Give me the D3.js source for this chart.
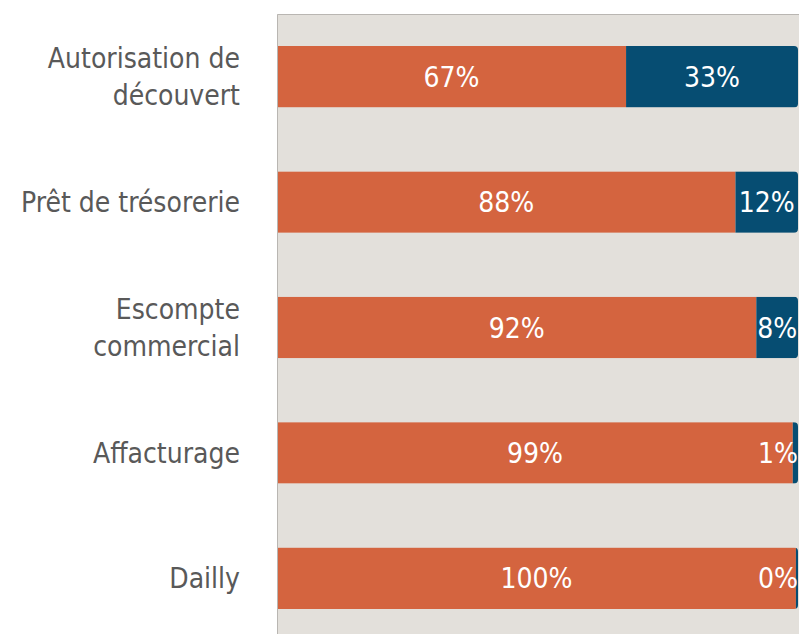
<!DOCTYPE html>
<html>
<head>
<meta charset="utf-8">
<script src="https://cdn.jsdelivr.net/npm/d3@7"></script>
<style>
  html, body { margin: 0; padding: 0; background: #ffffff; }
  svg { display: block; }
  .lbl { font-family: 'DejaVu Sans Condensed', 'DejaVu Sans', sans-serif; font-stretch: condensed; }
</style>
</head>
<body>
<svg id="chart"></svg>
<script>
// données
const categories = ["Autorisation de\ndécouvert", "Prêt de trésorerie", "Escompte\ncommercial", "Affacturage", "Dailly"];
const oui = [67, 88, 92, 99, 99.6];
const non = [33, 12, 8, 1, 0.4];

const width = 799;
const height = 634;
const marginTop = 14;
const marginLeft = 277;
const plotRight = 798;
const plotBottom = 641;

const svg = d3.select("#chart")
    .attr("width", width)
    .attr("height", height)
    .attr("viewBox", [0, 0, width, height]);

const x = d3.scaleLinear()
    .domain([0, 100])
    .range([marginLeft, plotRight]);

const y = d3.scaleBand()
    .domain(categories)
    .range([marginTop, plotBottom])
    .paddingInner(0.51)
    .paddingOuter(0.255);

// fond de la zone de tracé
svg.append("rect")
    .attr("x", marginLeft)
    .attr("y", marginTop)
    .attr("width", width - marginLeft + 5)
    .attr("height", height - marginTop + 5)
    .attr("fill", "#e3e0db");

svg.append("path")  // bordure haut + gauche
    .attr("d", `M${marginLeft + 0.5},${height + 5}V${marginTop + 0.5}H${width + 5}`)
    .attr("fill", "none")
    .attr("stroke", "#b9b6b2")
    .attr("stroke-width", 1);

const rows = categories.map((c, i) => ({ cat: c, a: oui[i], b: non[i] }));

// clip arrondi à droite pour chaque barre
const defs = svg.append("defs");
rows.forEach((d, i) => {
    defs.append("clipPath")
        .attr("id", "clip" + i)
        .append("rect")
        .attr("x", x(0) - 6)
        .attr("y", y(d.cat))
        .attr("width", x(d.a + d.b) - x(0) + 6)
        .attr("height", y.bandwidth())
        .attr("rx", 4);
});

const g = svg.append("g")
    .selectAll("g")
    .data(rows)
    .join("g")
    .attr("clip-path", (d, i) => `url(#clip${i})`);

g.append("rect")
    .attr("x", x(0) + 1)
    .attr("y", d => y(d.cat))
    .attr("width", d => x(d.a) - x(0) - 1)
    .attr("height", y.bandwidth())
    .attr("fill", "#d4643f");

g.append("rect")
    .attr("x", d => x(d.a))
    .attr("y", d => y(d.cat))
    .attr("width", d => x(d.a + d.b) - x(d.a))
    .attr("height", y.bandwidth())
    .attr("fill", "#064d72");

// étiquettes de valeurs
const lab = svg.append("g")
    .attr("class", "lbl")
    .attr("font-size", 28)
    .attr("fill", "#ffffff")
    .attr("text-anchor", "middle");

lab.selectAll("text.a")
    .data(rows)
    .join("text")
    .attr("class", "a")
    .attr("x", d => (x(0) + x(d.a)) / 2)
    .attr("y", d => y(d.cat) + y.bandwidth() / 2)
    .attr("dy", "0.36em")
    .text(d => Math.round(d.a) + "%");

lab.selectAll("text.b")
    .data(rows)
    .join("text")
    .attr("class", "b")
    .attr("y", d => y(d.cat) + y.bandwidth() / 2)
    .attr("dy", "0.36em")
    .text(d => Math.round(d.b) + "%")
    .attr("x", function (d) {
        const w = this.getComputedTextLength();
        const c = (x(d.a) + x(d.a + d.b)) / 2;
        return Math.min(c, x(d.a + d.b) - w / 2);
    });

// axe des catégories
const axis = svg.append("g")
    .attr("transform", `translate(${marginLeft},0)`)
    .call(d3.axisLeft(y).tickSize(0).tickPadding(37))
    .call(g => g.select(".domain").remove());

axis.selectAll(".tick text")
    .attr("class", "lbl")
    .attr("font-size", 28)
    .attr("fill", "#595959")
    .each(function (d) {
        const t = d3.select(this);
        const lines = d.split("\n");
        const xx = t.attr("x");
        t.text(null).attr("dy", null);
        const lh = 37;
        lines.forEach((s, k) => {
            t.append("tspan")
                .attr("x", xx)
                .attr("y", (k - (lines.length - 1) / 2) * lh)
                .attr("dy", "0.36em")
                .text(s);
        });
    });
</script>
</body>
</html>
